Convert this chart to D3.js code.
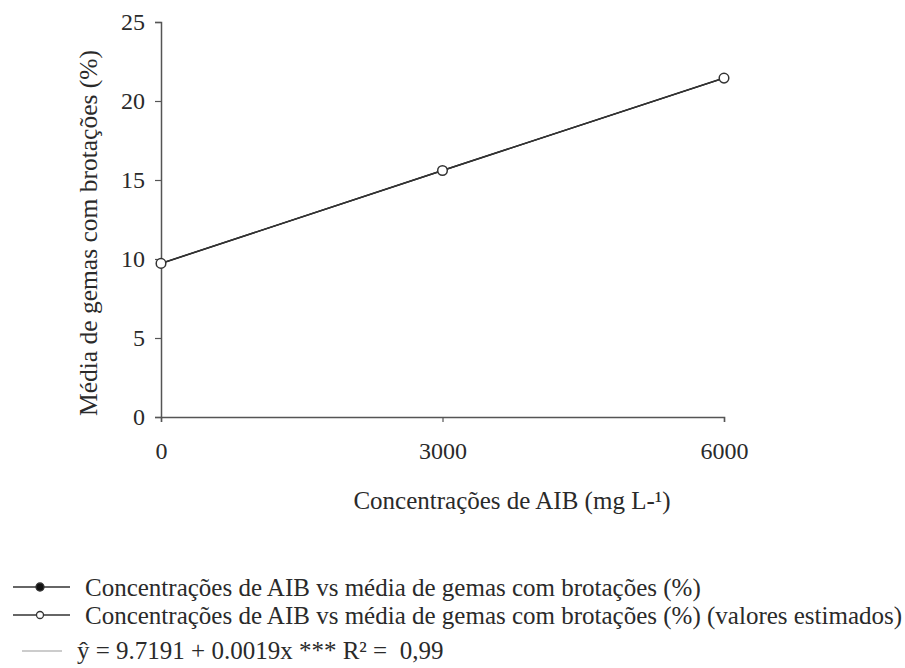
<!DOCTYPE html>
<html>
<head>
<meta charset="utf-8">
<script src="https://cdn.jsdelivr.net/npm/d3@7"></script>
<style>
  body { margin: 0; background: #fff; }
  svg text { font-family: "Liberation Serif", "Times New Roman", serif; fill: #2a2a2a; }
</style>
</head>
<body>
<svg id="canvas"></svg>
<script>
// concentrations (mg L-1) and mean buds with shoots (%)
const concentrations = [0, 3000, 6000];
const observed = [9.72, 15.6, 21.45];
const estimated = [9.72, 15.6, 21.45];
const xTicks = [0, 3000, 6000];
const yTicks = [0, 5, 10, 15, 20, 25];
const legendLabels = [
  'Concentrações de AIB vs média de gemas com brotações (%)',
  'Concentrações de AIB vs média de gemas com brotações (%) (valores estimados)',
  'ŷ = 9.7191 + 0.0019x *** R² =  0,99'
];

const w = 905;
const h = 668;

const svg = d3.select('#canvas').attr('width', w).attr('height', h);

const xScale = d3.scaleLinear().domain([0, 6000]).range([161, 724]);
const yScale = d3.scaleLinear().domain([0, 25]).range([417, 22]);

// axes
const xAxis = d3.axisBottom(xScale).tickValues(xTicks).tickSize(5).tickPadding(14).tickFormat(d3.format('d'));
const yAxis = d3.axisLeft(yScale).tickValues(yTicks).tickSize(6).tickPadding(10);

const gx = svg.append('g').attr('transform', 'translate(0,417)').call(xAxis);
const gy = svg.append('g').attr('transform', 'translate(161,0)').call(yAxis);

[gx, gy].forEach((g) => {
  g.select('.domain').attr('stroke', '#555').attr('stroke-width', 1.5);
  g.selectAll('.tick line').attr('stroke', '#555').attr('stroke-width', 1.2);
  g.selectAll('.tick text').style('font-family', '"Liberation Serif", serif').style('font-size', '24px').attr('fill', '#2a2a2a');
});
gx.selectAll('.tick text').attr('dy', '0.95em');

// axis titles
svg.append('text')
  .attr('x', 512).attr('y', 500)
  .attr('text-anchor', 'middle').attr('dominant-baseline', 'central')
  .style('font-size', '25px')
  .text('Concentrações de AIB (mg L-¹)');

svg.append('text')
  .attr('transform', 'translate(88,233) rotate(-90)')
  .attr('text-anchor', 'middle').attr('dominant-baseline', 'central')
  .style('font-size', '25.5px')
  .text('Média de gemas com brotações (%)');

// series
const data = concentrations.map((c, i) => ({ x: c, obs: observed[i], est: estimated[i] }));

const line = (key) => d3.line().x((d) => xScale(d.x)).y((d) => yScale(d[key]));

svg.append('path').datum(data).attr('d', line('est')).attr('fill', 'none').attr('stroke', '#999').attr('stroke-width', 1);
svg.append('path').datum(data).attr('d', line('obs')).attr('fill', 'none').attr('stroke', '#222').attr('stroke-width', 1.6);
svg.selectAll('.obs').data(data).enter().append('circle').attr('class', 'obs')
  .attr('cx', (d) => xScale(d.x)).attr('cy', (d) => yScale(d.obs)).attr('r', 4.5).attr('fill', '#111');
svg.append('path').datum(data).attr('d', line('est')).attr('fill', 'none').attr('stroke', '#333').attr('stroke-width', 1.4);
svg.selectAll('.est').data(data).enter().append('circle').attr('class', 'est')
  .attr('cx', (d) => xScale(d.x)).attr('cy', (d) => yScale(d.est)).attr('r', 4.8)
  .attr('fill', '#fff').attr('stroke', '#333').attr('stroke-width', 1.5);

// legend
const legendY = [587, 615, 650];
const legend = svg.append('g');

legendLabels.forEach((label, i) => {
  const y = legendY[i];
  if (i < 2) {
    legend.append('line').attr('x1', 13).attr('x2', 70).attr('y1', y).attr('y2', y).attr('stroke', '#333').attr('stroke-width', 1.4);
    legend.append('circle').attr('cx', 40).attr('cy', y).attr('r', i === 0 ? 4 : 3.5)
      .attr('fill', i === 0 ? '#111' : '#fff').attr('stroke', '#333').attr('stroke-width', 1.3);
  } else {
    legend.append('line').attr('x1', 22).attr('x2', 62).attr('y1', y + 1).attr('y2', y + 1).attr('stroke', '#999').attr('stroke-width', 1);
  }
  legend.append('text')
    .attr('x', i < 2 ? 85 : 77).attr('y', y)
    .attr('dominant-baseline', 'central')
    .style('font-size', '25px')
    .style('white-space', 'pre')
    .text(label);
});
</script>
</body>
</html>
